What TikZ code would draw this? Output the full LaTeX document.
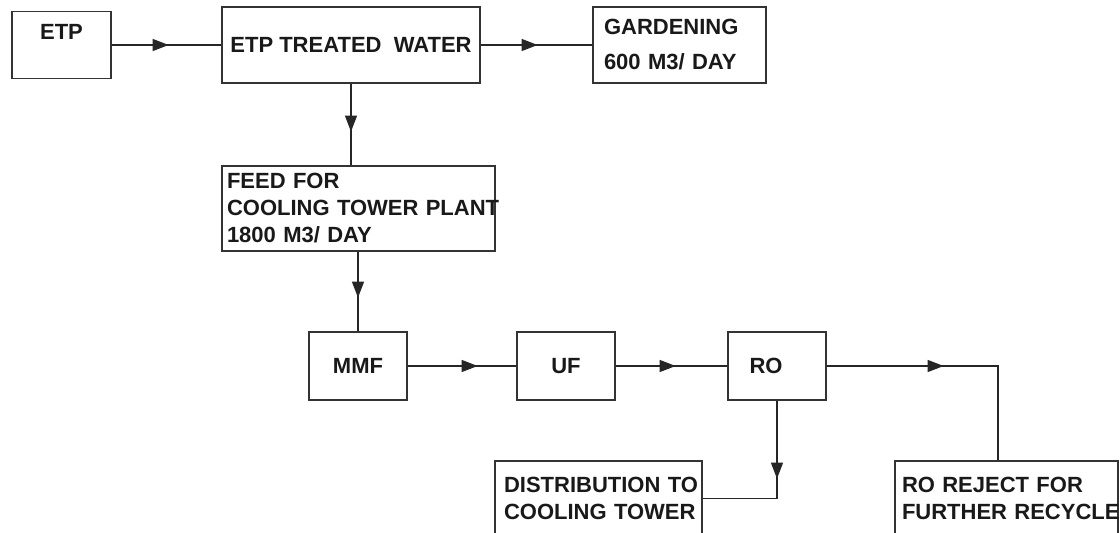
\documentclass[tikz,border=0pt]{standalone}
\usepackage{fontspec}
\setmainfont{Liberation Sans}
\usetikzlibrary{arrows.meta,decorations.markings,calc}
\begin{document}
\begin{tikzpicture}[x=1pt,y=-1pt,
  box/.style={draw=black!80, line width=1.3pt, inner sep=0pt, text=black!90,
    font=\fontsize{22}{27}\selectfont\bfseries},
  flow/.style={draw=black!85, line width=1.2pt, postaction={decorate},
    decoration={markings, mark=at position #1 with {\arrow{Triangle[length=16pt,width=12pt]}}}}]
\useasboundingbox (0,0) rectangle (1120,533);
\clip (0,0) rectangle (1120,533);
\fill[white] (0,0) rectangle (1120,533);
% boxes
\node[box, minimum width=99pt, minimum height=67pt, text depth=27pt] (etp) at (61.5,45) {ETP};
\node[box, minimum width=258pt, minimum height=76pt] (etw) at (351,45) {ETP TREATED\ \ WATER};
\node[box, minimum width=173pt, minimum height=76pt, text width=151pt, align=left] (gard) at (679.5,45) {GARDENING\\[8pt]600 M3/ DAY};
\node[box, minimum width=273pt, minimum height=85pt, text width=263pt, align=left] (feed) at (358.5,208.5) {FEED FOR\\\mbox{COOLING TOWER PLANT}\\1800 M3/ DAY};
\node[box, minimum width=98pt, minimum height=68pt] (mmf) at (358,366) {MMF};
\node[box, minimum width=98pt, minimum height=68pt] (uf) at (566,366) {UF};
\node[box, minimum width=98pt, minimum height=68pt] (ro) at (777,366) {RO\hspace*{22pt}};
\node[box, minimum width=207pt, minimum height=75pt, text width=189pt, align=left] (dist) at (598.5,498.5) {\mbox{DISTRIBUTION TO}\\\mbox{COOLING TOWER}};
\node[box, minimum width=223pt, minimum height=75pt, text width=209pt, align=left] (rej) at (1006.5,498.5) {RO REJECT FOR\\\mbox{FURTHER RECYCLE}};
\coordinate (rjtop) at ($(rej.north)+(-8.5,0)$);
% connectors
\draw[flow=57pt] (etp.east |- etw.west) -- (etw.west);
\draw[flow=57pt] (etw.east) -- (gard.west);
\draw[flow=48pt] (etw.south) -- (etw.south |- feed.north);
\draw[flow=46pt] (feed.south -| mmf.north) -- (mmf.north);
\draw[flow=70pt] (mmf.east) -- (uf.west);
\draw[flow=60pt] (uf.east) -- (ro.west);
\draw[flow=117pt] (ro.east) -| (rjtop);
\draw[flow=78pt] (ro.south) |- (dist.east);
\end{tikzpicture}
\end{document}
